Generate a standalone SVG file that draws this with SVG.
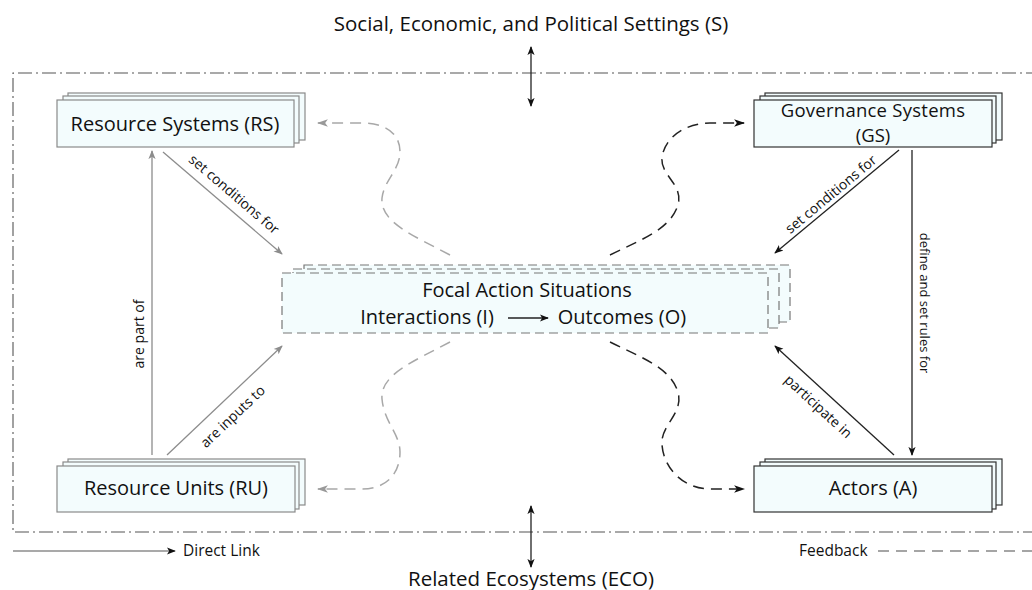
<svg xmlns="http://www.w3.org/2000/svg" width="1032" height="590" viewBox="0 0 1032 590">
<defs>
<style>
text{font-family:"Open Sans","Noto Sans",sans-serif;fill:#111}
.node{font-size:20px}
.lbl{font-size:14px}
.box{fill:#f3fcfd;stroke:#8a8a8a;stroke-width:1.2}
.boxb{fill:#f3fcfd;stroke:#333;stroke-width:1.2}
.fas{fill:#f3fcfd;stroke:#777;stroke-width:1.2;stroke-dasharray:9 5}
.gl{stroke:#8c8c8c;stroke-width:1.3;fill:none}
.bl{stroke:#222;stroke-width:1.3;fill:none}
.fg{stroke:#a8a8a8;stroke-width:1.5;fill:none;stroke-dasharray:11 7}
.fb{stroke:#222;stroke-width:1.5;fill:none;stroke-dasharray:11 7}
.dd{stroke:#555;stroke-width:1.1;fill:none;stroke-dasharray:14 4 2 4}
</style>
<marker id="ag" viewBox="0 0 10 10" refX="9" refY="5" markerWidth="9" markerHeight="9" markerUnits="userSpaceOnUse" orient="auto"><path d="M0,1 L10,5 L0,9 L2.5,5 z" fill="#8c8c8c"/></marker>
<marker id="ab" viewBox="0 0 10 10" refX="9" refY="5" markerWidth="9" markerHeight="9" markerUnits="userSpaceOnUse" orient="auto-start-reverse"><path d="M0,1 L10,5 L0,9 L2.5,5 z" fill="#111"/></marker>
<marker id="agf" viewBox="0 0 10 10" refX="9" refY="5" markerWidth="11" markerHeight="11" markerUnits="userSpaceOnUse" orient="auto"><path d="M0,1.5 L10,5 L0,8.5 L2.5,5 z" fill="#999"/></marker>
<marker id="abf" viewBox="0 0 10 10" refX="9" refY="5" markerWidth="11" markerHeight="11" markerUnits="userSpaceOnUse" orient="auto"><path d="M0,1.5 L10,5 L0,8.5 L2.5,5 z" fill="#111"/></marker>
</defs>
<rect width="1032" height="590" fill="#fff"/>

<g id="frame">
<path class="dd" d="M1040,73 L13,73 L13,532 L1040,532"/>
</g>

<g id="settings">
<text x="531" y="31" text-anchor="middle" style="font-size:20.5px">Social, Economic, and Political Settings (S)</text>
</g>
<g id="ecosystems">
<text x="531" y="586" text-anchor="middle" style="font-size:20.5px">Related Ecosystems (ECO)</text>
</g>

<g id="RS">
<rect class="box" x="68" y="93" width="237" height="47"/>
<rect class="box" x="63" y="96" width="236" height="47"/>
<rect class="box" x="57" y="100" width="237" height="47"/>
<text class="node" x="175" y="131" text-anchor="middle">Resource Systems (RS)</text>
</g>

<g id="GS">
<rect class="boxb" x="765" y="93" width="237" height="47"/>
<rect class="boxb" x="760" y="96" width="236" height="47"/>
<rect class="boxb" x="754" y="100" width="238" height="47"/>
<text x="873" y="117" text-anchor="middle" style="font-size:18.5px;letter-spacing:0.25px">Governance Systems</text>
<text x="873" y="142" text-anchor="middle" style="font-size:18.5px">(GS)</text>
</g>

<g id="FAS">
<rect class="fas" x="304" y="265" width="486" height="57"/>
<rect class="fas" x="293" y="269" width="486" height="59"/>
<rect class="fas" x="282" y="273" width="486" height="60"/>
<text class="node" x="527" y="297" text-anchor="middle">Focal Action Situations</text>
<text class="node" x="427" y="324" text-anchor="middle">Interactions (I)</text>
<text class="node" x="622" y="324" text-anchor="middle">Outcomes (O)</text>
</g>

<g id="RU">
<rect class="box" x="68" y="459" width="237" height="46"/>
<rect class="box" x="63" y="462" width="236" height="47"/>
<rect class="box" x="57" y="466" width="238" height="46"/>
<text class="node" x="176" y="495" text-anchor="middle">Resource Units (RU)</text>
</g>

<g id="A">
<rect class="boxb" x="765" y="459" width="237" height="46"/>
<rect class="boxb" x="760" y="462" width="236" height="47"/>
<rect class="boxb" x="754" y="466" width="238" height="46"/>
<text class="node" x="873" y="495" text-anchor="middle">Actors (A)</text>
</g>

<g id="connectors">
<line class="bl" x1="531" y1="47" x2="531" y2="106" marker-start="url(#ab)" marker-end="url(#ab)"/>
<line class="bl" x1="531" y1="506" x2="531" y2="567" marker-start="url(#ab)" marker-end="url(#ab)"/>
<line class="bl" x1="508" y1="318" x2="548" y2="318" marker-end="url(#ab)"/>

<line class="gl" x1="152" y1="455" x2="152" y2="151" marker-end="url(#ag)"/>
<text class="lbl" transform="translate(144,334) rotate(-90)" text-anchor="middle">are part of</text>

<line class="gl" x1="163" y1="152" x2="282" y2="254" marker-end="url(#ag)"/>
<text class="lbl" transform="translate(231,198) rotate(40.6)" text-anchor="middle">set conditions for</text>

<line class="gl" x1="167" y1="455" x2="282" y2="346" marker-end="url(#ag)"/>
<text class="lbl" transform="translate(236,420) rotate(-43.5)" text-anchor="middle">are inputs to</text>

<line class="bl" x1="899" y1="150" x2="775" y2="253" marker-end="url(#ab)"/>
<text class="lbl" transform="translate(834,198) rotate(-39.7)" text-anchor="middle">set conditions for</text>

<line class="bl" x1="912" y1="150" x2="912" y2="455" marker-end="url(#ab)"/>
<text class="lbl" transform="translate(920,303) rotate(90)" text-anchor="middle" style="font-size:13px">define and set rules for</text>

<line class="bl" x1="894" y1="455" x2="775" y2="346" marker-end="url(#ab)"/>
<text class="lbl" transform="translate(815,410) rotate(42.5)" text-anchor="middle">participate in</text>

<path class="fg" d="M450,255 C412,235 380,222 382,198 C384,180 400,170 400,152 C400,133 385,123 362,123 L318,123" marker-end="url(#agf)"/>
<path class="fg" d="M450,342 C412,362 380,375 382,399 C384,422 400,434 400,452 C400,475 385,489 362,489 L318,489" marker-end="url(#agf)"/>
<path class="fb" d="M610,255 C640,240 670,230 678,205 C684,185 660,175 662,158 C664,138 685,123 710,123 L744,123" marker-end="url(#abf)"/>
<path class="fb" d="M610,342 C640,357 670,367 678,392 C684,414 660,425 662,445 C664,470 685,489 710,489 L744,489" marker-end="url(#abf)"/>
</g>

<g id="legend">
<line class="gl" x1="13" y1="551" x2="175" y2="551" marker-end="url(#ab)"/>
<text x="183" y="556" style="font-size:15.5px">Direct Link</text>
<text x="799" y="556" style="font-size:15.5px">Feedback</text>
<line x1="878" y1="551" x2="1032" y2="551" style="stroke:#888;stroke-width:1.3;stroke-dasharray:11 7"/>
</g>
</svg>
